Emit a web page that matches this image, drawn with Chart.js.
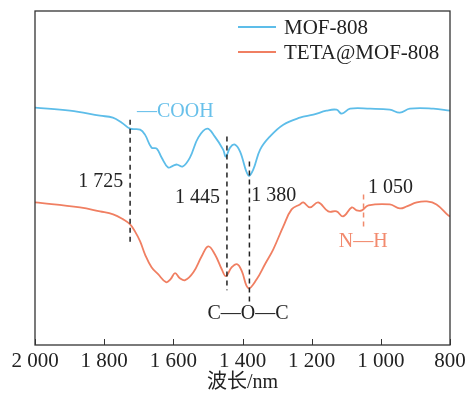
<!DOCTYPE html>
<html><head><meta charset="utf-8">
<script src="https://cdn.jsdelivr.net/npm/chart.js@4.4.0/dist/chart.umd.min.js"></script>
<style>html,body{margin:0;padding:0;background:#fff}#wrap{width:467px;height:395px}</style>
</head><body><div id="wrap"><canvas id="c" width="467" height="395"></canvas></div>
<script>
// ---- data (wavenumber, cm^-1 ; transmittance, a.u.) ----
const wnMOF = [2000,1899,1812,1775,1749,1725,1696,1682,1663,1648,1634,1615,1600,1589,1573,1552,1528,1502,1480,1456,1448,1436,1422,1407,1383,1369,1349,1321,1282,1234,1195,1157,1128,1113,1089,1031,974,945,916,848,800];
const tMOF  = [238,235,230,228,223,217,216,211,198,197,188,178,180,181,179,188,208,217,209,196,189,198,201,194,170,176,196,209,221,228,231,235,236,232,237,237,236,233,237,237,235];
const wnTETA = [2000,1870,1812,1774,1745,1725,1711,1696,1682,1663,1644,1621,1608,1595,1581,1566,1542,1518,1499,1480,1460,1448,1431,1415,1402,1383,1359,1335,1311,1282,1258,1234,1224,1205,1181,1152,1128,1109,1084,1070,1055,1036,974,945,925,896,867,839,805,800];
const tTETA  = [143,138,134,131,126,121,114,104,91,78,71,63,66,72,67,65,73,89,99,91,76,69,78,81,74,57,66,81,96,119,136,141,143,138,143,134,134,129,138,135,135,140,141,137,139,143,144,141,130,129];
const xTicks = [2000,1800,1600,1400,1200,1000,800];
const seriesNames = ['MOF-808','TETA@MOF-808'];
const seriesColors = ['#5dbde9','#f07f62'];
const peaks = [1725,1445,1380,1050];

// ---- annotation layout ----
const peakLines = [
  {x:peaks[0], y0:103, y1:226, color:'#222'},
  {x:peaks[1], y0:55,  y1:209, color:'#222'},
  {x:peaks[2], y0:43,  y1:184, color:'#222'},
  {x:peaks[3], y0:116, y1:151, color:'#f08a6c'}
];
const noteTexts = [
  {text:'1 725', x:1745, y:164, align:'right', color:'#222'},
  {text:'1 445', x:1465, y:148, align:'right', color:'#222'},
  {text:'1 380', x:1375, y:150, align:'left',  color:'#222'},
  {text:'1 050', x:1037, y:158, align:'left',  color:'#222'},
  {text:'N—H',   x:1051, y:104, align:'center',color:'#f28a6e'},
  {text:'C—O—C', x:1384, y:31,  align:'center',color:'#222'},
  {text:'—COOH', x:1705, y:234, align:'left',  color:'#68c0ea'}
];
const SERIF = '"Liberation Serif", "Times New Roman", serif';

const fmt = v => v >= 1000 ? Math.floor(v/1000) + ' ' + String(v % 1000).padStart(3,'0') : String(v);

const decor = {
  id:'decor',
  afterDatasetsDraw(chart){
    const {ctx, chartArea:a, scales:{x, y}} = chart;
    ctx.save();
    ctx.setLineDash([5,4]);
    ctx.lineWidth = 1.5;
    peakLines.forEach(p => {
      const px = x.getPixelForValue(p.x);
      ctx.strokeStyle = p.color;
      ctx.beginPath();
      ctx.moveTo(px, y.getPixelForValue(p.y1));
      ctx.lineTo(px, y.getPixelForValue(p.y0));
      ctx.stroke();
    });
    ctx.setLineDash([]);
    ctx.font = '20px ' + SERIF;
    ctx.textBaseline = 'middle';
    noteTexts.forEach(t => {
      ctx.fillStyle = t.color;
      ctx.textAlign = t.align;
      ctx.fillText(t.text, x.getPixelForValue(t.x), y.getPixelForValue(t.y));
    });
    ctx.strokeStyle = '#333';
    ctx.lineWidth = 1.3;
    ctx.strokeRect(a.left, a.top, a.right - a.left, a.bottom - a.top);
    ctx.lineWidth = 1;
    xTicks.forEach(v => {
      const px = Math.round(x.getPixelForValue(v)) + 0.5;
      ctx.beginPath();
      ctx.moveTo(px, a.bottom);
      ctx.lineTo(px, a.bottom - 6);
      ctx.stroke();
    });
    ctx.font = '21px ' + SERIF;
    ctx.textAlign = 'left';
    ctx.textBaseline = 'middle';
    chart.data.datasets.forEach((ds, i) => {
      const ly = 27 + i * 25;
      ctx.strokeStyle = ds.borderColor;
      ctx.lineWidth = 2;
      ctx.beginPath();
      ctx.moveTo(238, ly);
      ctx.lineTo(276, ly);
      ctx.stroke();
      ctx.fillStyle = '#222';
      ctx.fillText(ds.label, 284, ly + 1);
    });
    ctx.restore();
  }
};

new Chart(document.getElementById('c'), {
  type:'line',
  data:{
    datasets:[
      {label:seriesNames[0], data:wnMOF.map((w,i)=>({x:w, y:tMOF[i]})), borderColor:seriesColors[0]},
      {label:seriesNames[1], data:wnTETA.map((w,i)=>({x:w, y:tTETA[i]})), borderColor:seriesColors[1]}
    ]
  },
  options:{
    responsive:false, animation:false, devicePixelRatio:1,
    layout:{padding:{left:35, right:17, top:11, bottom:0}},
    elements:{
      point:{radius:0},
      line:{borderWidth:1.8, tension:0.4, fill:false}
    },
    plugins:{legend:{display:false}, tooltip:{enabled:false}},
    scales:{
      x:{
        type:'linear', reverse:true, min:800, max:2000,
        afterBuildTicks: s => { s.ticks = xTicks.map(v => ({value:v})); },
        afterFit: s => { s.height = 50; s.paddingLeft = 0; s.paddingRight = 0; },
        grid:{display:false, drawTicks:false},
        border:{display:false},
        ticks:{callback: v => fmt(v), color:'#222', padding:4, maxRotation:0, autoSkip:false,
               font:{family:SERIF, size:21}},
        title:{display:true, text:'波长/nm', color:'#222', padding:{top:0, bottom:0},
               font:{family:SERIF + ', "Noto Sans CJK SC"', size:20}}
      },
      y:{display:false, min:0, max:335}
    }
  },
  plugins:[decor]
});
</script></body></html>
